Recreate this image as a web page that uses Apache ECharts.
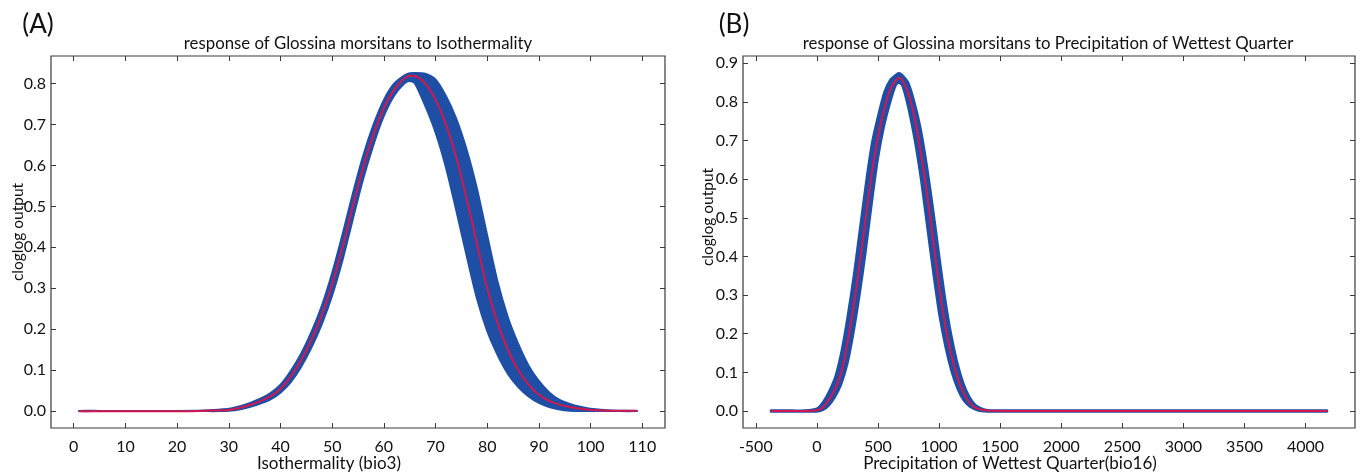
<!DOCTYPE html>
<html>
<head>
<meta charset="utf-8">
<script src="https://cdn.jsdelivr.net/npm/echarts@6/dist/echarts.min.js"></script>
<style>
html,body{margin:0;padding:0;background:#fff;}
#chart{width:1362px;height:475px;}
</style>
</head>
<body>
<div id="chart"></div>
<script>
// ---------- Panel A: Isothermality (bio3) ----------
const xA = [1, 5, 10, 15, 20, 25, 28,
  30, 32, 34, 36, 38, 40, 42, 44, 46, 48, 50, 52, 54, 56, 58, 60, 62, 64,
  65, 66,
  68, 70, 72, 74, 76, 78, 80, 82, 84, 86, 88, 90, 92, 94, 96, 98, 100,
  104, 109];
const meanA = [0, 0, 0, 0, 0, 0.001, 0.002,
  0.003, 0.008, 0.015, 0.024, 0.036, 0.055, 0.085, 0.125, 0.175, 0.235, 0.31, 0.40, 0.50, 0.595, 0.675, 0.74, 0.785, 0.813,
  0.819, 0.818,
  0.80, 0.76, 0.70, 0.62, 0.52, 0.41, 0.30, 0.215, 0.15, 0.10, 0.065, 0.04, 0.025, 0.016, 0.01, 0.006, 0.003,
  0.001, 0.001];
const upperA = [0.001, 0.001, 0.001, 0.001, 0.001, 0.002, 0.004,
  0.006, 0.012, 0.02, 0.03, 0.044, 0.065, 0.099, 0.141, 0.194, 0.258, 0.338, 0.432, 0.532, 0.624, 0.70, 0.76, 0.80, 0.82,
  0.825, 0.826,
  0.824, 0.81, 0.77, 0.715, 0.64, 0.545, 0.43, 0.317, 0.23, 0.165, 0.112, 0.074, 0.046, 0.028, 0.018, 0.011, 0.006,
  0.002, 0.001];
const lowerA = [0, 0, 0, 0, 0, 0, 0,
  0.001, 0.004, 0.01, 0.018, 0.028, 0.045, 0.071, 0.108, 0.155, 0.212, 0.282, 0.368, 0.468, 0.566, 0.65, 0.72, 0.77, 0.80,
  0.806, 0.80,
  0.745, 0.68, 0.595, 0.49, 0.38, 0.275, 0.195, 0.137, 0.091, 0.059, 0.036, 0.02, 0.01, 0.004, 0.001, 0, 0,
  0, 0];
const xTicksA = [0, 10, 20, 30, 40, 50, 60, 70, 80, 90, 100, 110];
const yTicksA = [0, 0.1, 0.2, 0.3, 0.4, 0.5, 0.6, 0.7, 0.8];

// ---------- Panel B: Precipitation of Wettest Quarter (bio16) ----------
const xB = [-377, -200, -100,
  0, 50, 100, 150, 200, 250, 300, 350, 400, 450, 500, 550, 600, 650,
  675,
  700, 750, 800, 850, 900, 950, 1000, 1050, 1100, 1150, 1200, 1250, 1300, 1350, 1400,
  1500, 2000, 3000, 4177];
const meanB = [0, 0, 0,
  0.002, 0.01, 0.03, 0.058, 0.10, 0.175, 0.27, 0.38, 0.50, 0.615, 0.71, 0.78, 0.832, 0.858,
  0.862,
  0.855, 0.82, 0.76, 0.67, 0.565, 0.445, 0.325, 0.222, 0.145, 0.087, 0.047, 0.021, 0.008, 0.003, 0.001,
  0, 0, 0, 0];
const upperB = [0.002, 0.002, 0.002,
  0.007, 0.024, 0.052, 0.09, 0.155, 0.245, 0.35, 0.47, 0.59, 0.695, 0.765, 0.825, 0.858, 0.872,
  0.875,
  0.87, 0.85, 0.80, 0.733, 0.64, 0.53, 0.41, 0.295, 0.20, 0.127, 0.073, 0.037, 0.016, 0.007, 0.003,
  0.002, 0.002, 0.002, 0.002];
const lowerB = [-0.002, -0.002, -0.002,
  -0.002, 0.002, 0.014, 0.036, 0.068, 0.12, 0.20, 0.298, 0.41, 0.535, 0.65, 0.735, 0.797, 0.845,
  0.849,
  0.84, 0.78, 0.70, 0.60, 0.48, 0.36, 0.25, 0.167, 0.103, 0.057, 0.027, 0.011, 0.003, -0.001, -0.002,
  -0.002, -0.002, -0.002, -0.002];
const xTicksB = [-500, 0, 500, 1000, 1500, 2000, 2500, 3000, 3500, 4000];
const yTicksB = [0, 0.1, 0.2, 0.3, 0.4, 0.5, 0.6, 0.7, 0.8, 0.9];

// ---------- helpers ----------
const FONT = 'Lato, "Noto Sans", sans-serif';
const BLUE = '#1f4fa5';
const RED = '#d4174f';
const FRAME = '#3a3a3a';

function pairs(xs, ys) { return xs.map((x, i) => [x, ys[i]]); }

function xAxes(grid, min, max, ticks) {
  return [
    { gridIndex: grid, type: 'value', min: min, max: max, position: 'bottom',
      axisLine: { show: false, onZero: false }, splitLine: { show: false },
      axisTick: { inside: true, length: 5, customValues: ticks, lineStyle: { color: FRAME, width: 1 } },
      axisLabel: { customValues: ticks, margin: 11, color: '#111', fontSize: 16, fontFamily: FONT,
        formatter: v => String(v) } },
    { gridIndex: grid, type: 'value', min: min, max: max, position: 'top',
      axisLine: { show: false, onZero: false }, splitLine: { show: false },
      axisTick: { inside: true, length: 5, customValues: ticks, lineStyle: { color: FRAME, width: 1 } },
      axisLabel: { show: false } }
  ];
}
function yAxes(grid, min, max, ticks) {
  return [
    { gridIndex: grid, type: 'value', min: min, max: max, position: 'left',
      axisLine: { show: false, onZero: false }, splitLine: { show: false },
      axisTick: { inside: true, length: 5, customValues: ticks, lineStyle: { color: FRAME, width: 1 } },
      axisLabel: { customValues: ticks, margin: 5, color: '#111', fontSize: 16, fontFamily: FONT,
        formatter: v => v.toFixed(1) } },
    { gridIndex: grid, type: 'value', min: min, max: max, position: 'right',
      axisLine: { show: false, onZero: false }, splitLine: { show: false },
      axisTick: { inside: true, length: 5, customValues: ticks, lineStyle: { color: FRAME, width: 1 } },
      axisLabel: { show: false } }
  ];
}
function bandSeries(xi, yi, xs, upper, lower) {
  return {
    type: 'custom', xAxisIndex: xi, yAxisIndex: yi, data: [[xs[0], 0]], clip: true, silent: true,
    renderItem: function (params, api) {
      const pts = [];
      for (let i = 0; i < xs.length; i++) pts.push(api.coord([xs[i], upper[i]]));
      for (let i = xs.length - 1; i >= 0; i--) pts.push(api.coord([xs[i], lower[i]]));
      return { type: 'polygon', shape: { points: pts, smooth: 0.25 },
        style: { fill: BLUE, stroke: BLUE, lineWidth: 1.8, lineJoin: 'round' } };
    }
  };
}
function meanSeries(xi, yi, xs, mean) {
  return { type: 'line', xAxisIndex: xi, yAxisIndex: yi, data: pairs(xs, mean),
    symbol: 'none', smooth: 0.3, lineStyle: { color: RED, width: 2 }, z: 5 };
}
function txt(text, x, y, size, rot) {
  return { type: 'text', x: x, y: y, rotation: rot || 0,
    style: { text: text, fill: '#111', font: size + 'px ' + FONT,
      textAlign: 'center', textVerticalAlign: 'middle', align: 'center', verticalAlign: 'middle' } };
}

const chart = echarts.init(document.getElementById('chart'), null, { renderer: 'canvas' });
chart.setOption({
  animation: false,
  backgroundColor: '#fff',
  grid: [
    { left: 51, top: 56, width: 614, height: 372, show: true, borderColor: FRAME, borderWidth: 1.2, containLabel: false },
    { left: 743, top: 56, width: 612, height: 372, show: true, borderColor: FRAME, borderWidth: 1.2, containLabel: false }
  ],
  xAxis: [].concat(xAxes(0, -4.4, 114.4, xTicksA), xAxes(1, -604.7, 4404.7, xTicksB)),
  yAxis: [].concat(yAxes(0, -0.041, 0.867, yTicksA), yAxes(1, -0.044, 0.919, yTicksB)),
  series: [
    bandSeries(0, 0, xA, upperA, lowerA),
    meanSeries(0, 0, xA, meanA),
    bandSeries(2, 2, xB, upperB, lowerB),
    meanSeries(2, 2, xB, meanB)
  ],
  graphic: [
    txt('(A)', 38, 25, 26),
    txt('(B)', 734, 25, 26),
    txt('response of Glossina morsitans to Isothermality', 358, 44, 16.8),
    txt('response of Glossina morsitans to Precipitation of Wettest Quarter', 1048, 44, 16.8),
    txt('Isothermality (bio3)', 329, 464, 17),
    txt('Precipitation of Wettest Quarter(bio16)', 1010, 464, 17),
    txt('cloglog output', 18, 232, 15.5, Math.PI / 2),
    txt('cloglog output', 708, 217, 15.5, Math.PI / 2)
  ]
});
</script>
</body>
</html>
